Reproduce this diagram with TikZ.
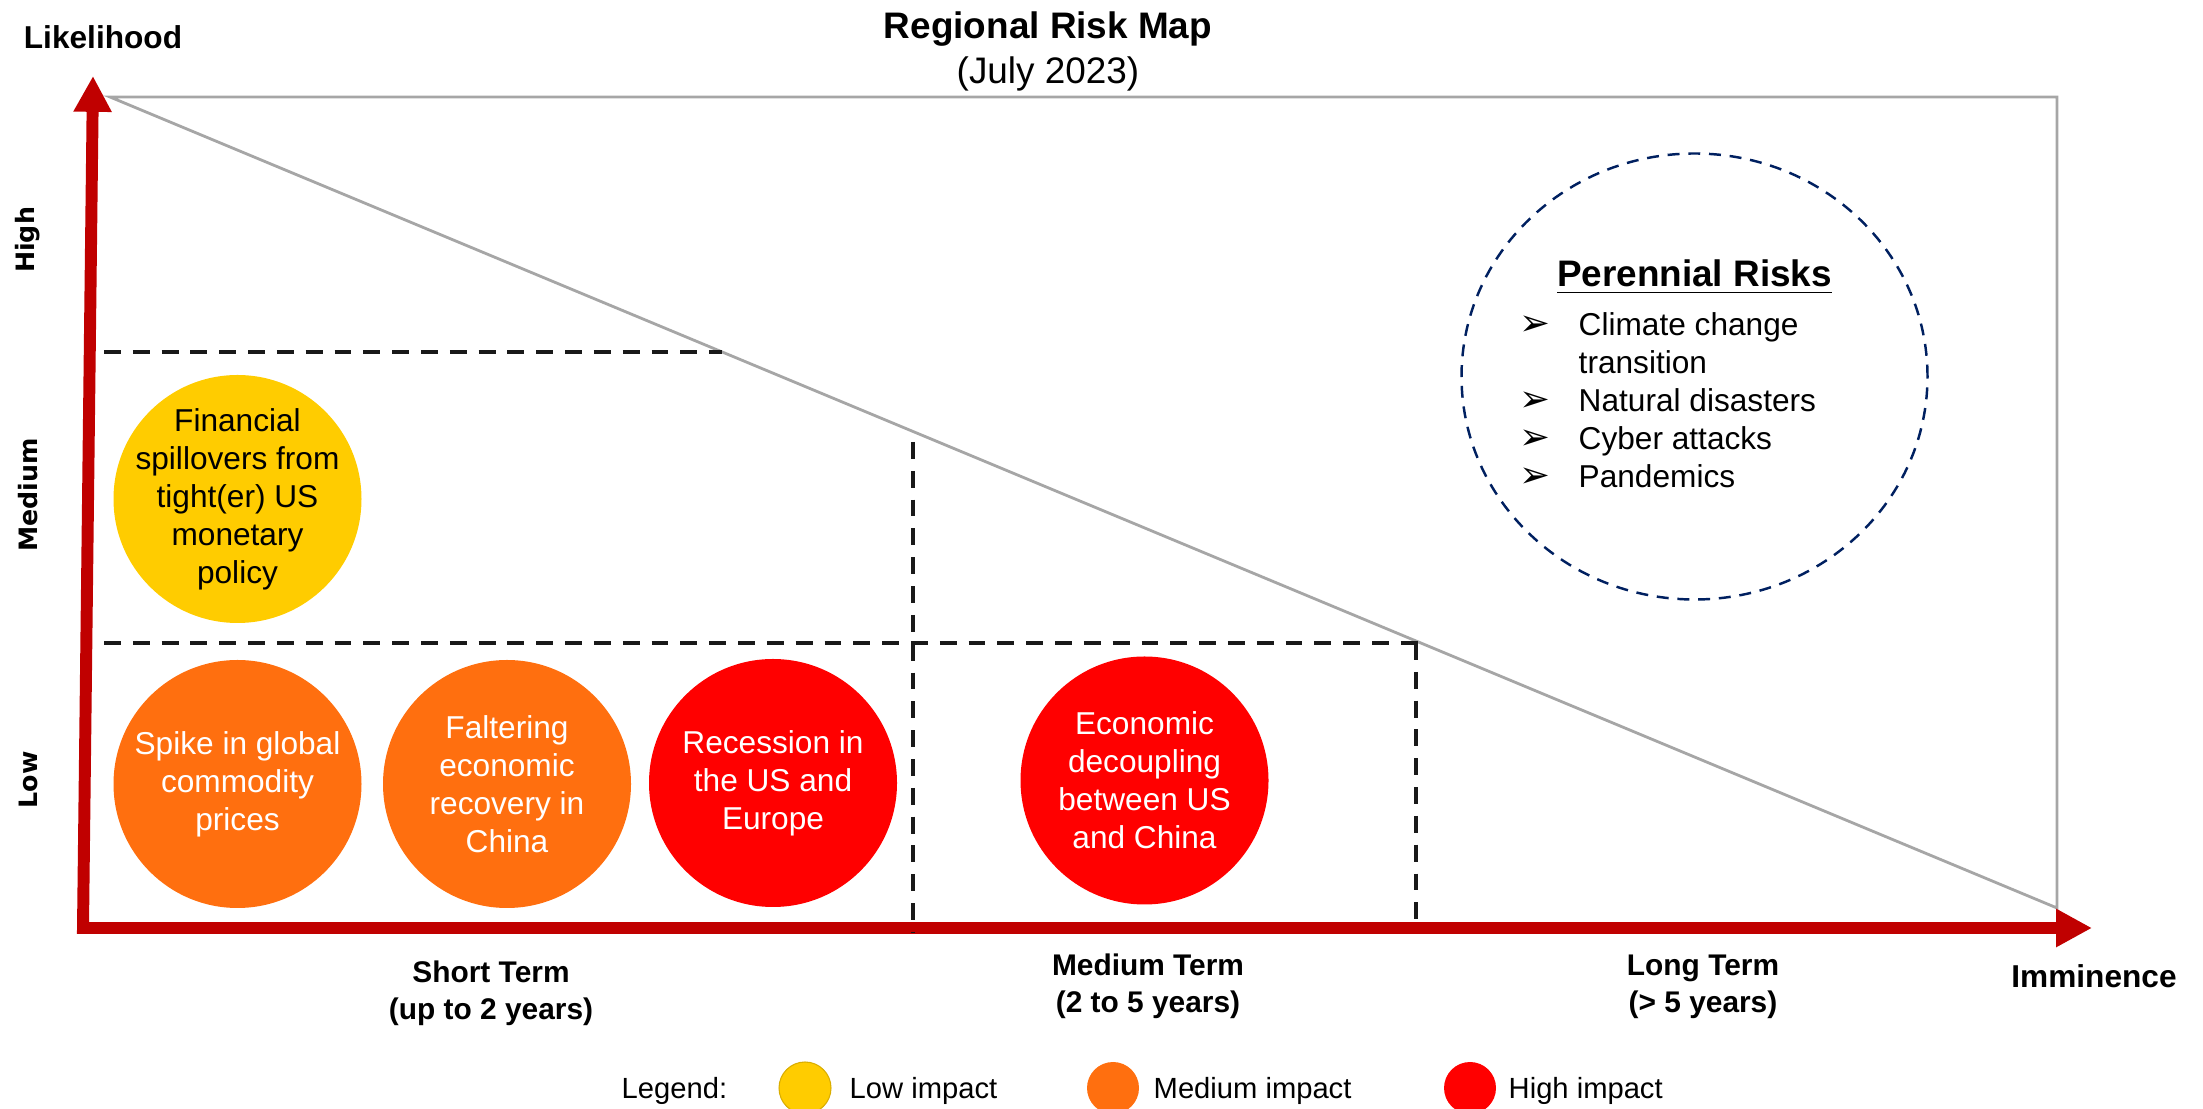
\documentclass[tikz,border=0pt]{standalone}
\usepackage{fontspec}
\setmainfont{Liberation Sans}
\newfontfamily\widefont{DejaVu Sans}
\usetikzlibrary{arrows.meta}
\definecolor{axisred}{HTML}{C00000}
\definecolor{lowimp}{HTML}{FFCC00}
\definecolor{medimp}{HTML}{FF6F0F}
\definecolor{highimp}{HTML}{FF0000}
\definecolor{framegray}{HTML}{A6A6A6}
\definecolor{navy}{HTML}{002060}
\newcommand{\bul}{{\widefont\fontsize{10.5}{10.8}\selectfont ➢}}

\begin{document}
\begin{tikzpicture}[
    risk/.style={circle, minimum size=2.48cm, inner sep=-8pt, align=center, font=\fontsize{9}{10.8}\selectfont},
    term/.style={align=center, font=\fontsize{8.5}{10.5}\selectfont\bfseries},
    likely/.style={rotate=90, font=\widefont\fontsize{7.2}{8}\selectfont\bfseries},
    divider/.style={dash pattern=on 4.8pt off 3.4pt, line width=1.1pt, black!90},
    legdot/.style={circle, minimum size=0.52cm, inner sep=0pt},
    legtext/.style={anchor=west, inner sep=0pt, font=\fontsize{8.3}{10}\selectfont}
]
    % Canvas
    \useasboundingbox (-0.83, -1.81) rectangle (21.20, 9.28);

    % Title
    \node[font=\fontsize{10.5}{12}\selectfont\bfseries] (title) at (9.65, 8.99) {Regional Risk Map};
    \node[font=\fontsize{10.5}{12}\selectfont] (date) at (9.65, 8.54) {(July 2023)};

    % Frame and diagonal
    \draw[framegray, line width=0.8pt] (0.27, 8.31) -- (19.74, 8.31) -- (19.74, 0.20) -- cycle;

    % Axes
    \draw[axisred, line width=3.4pt, {Triangle[length=10.2pt, width=10.2pt]}-{Triangle[length=10.2pt, width=10.2pt]}]
        (0.10, 8.52) -- (0, 0) -- (20.09, 0);
    \node[font=\fontsize{9}{11}\selectfont\bfseries] (ylab) at (0.20, 8.91) {Likelihood};
    \node[font=\fontsize{9}{11}\selectfont\bfseries] (xlab) at (20.11, -0.48) {Imminence};

    % Likelihood levels
    \node[likely] (high) at (-0.55, 6.88) {High};
    \node[likely] (medium) at (-0.55, 4.33) {Medium};
    \node[likely] (low) at (-0.55, 1.48) {Low};

    % Time horizons
    \node[term] (short) at (4.08, -0.65) {Short Term\\(up to 2 years)};
    \node[term] (mid) at (10.65, -0.58) {Medium Term\\(2 to 5 years)};
    \node[term] (long) at (16.20, -0.59) {Long Term\\(> 5 years)};

    % Dashed dividers
    \draw[divider] (0.21, 5.76) -- (6.39, 5.76);
    \draw[divider] (0.21, 2.85) -- (13.36, 2.85);
    \draw[divider] (8.30, 4.86) -- (8.30, -0.05);
    \draw[divider] (13.33, 2.85) -- (13.33, 0);

    % Risks
    \node[risk, fill=lowimp] (spill) at (1.545, 4.29) {Financial\\spillovers from\\tight(er) US\\monetary\\policy};
    \node[risk, fill=medimp, text=white] (spike) at (1.545, 1.44) {Spike in global\\commodity\\prices};
    \node[risk, fill=medimp, text=white] (china) at (4.24, 1.44) {Faltering\\economic\\recovery in\\China};
    \node[risk, fill=highimp, text=white] (recess) at (6.90, 1.45) {Recession in\\the US and\\Europe};
    \node[risk, fill=highimp, text=white] (decouple) at (10.615, 1.475) {Economic\\decoupling\\between US\\and China};

    % Perennial risks
    \draw[navy, line width=0.7pt, dash pattern=on 3.4pt off 2.5pt] (16.115, 5.515) ellipse [x radius=2.33, y radius=2.23];
    \node[anchor=base, font=\fontsize{10.5}{12}\selectfont\bfseries] (pertitle) at (16.115, 6.41) {\underline{Perennial Risks}};
    \node[anchor=west, inner sep=0pt, font=\fontsize{9}{10.8}\selectfont] (perlist) at (14.36, 5.24) {%
        \begin{tabular}{@{}p{0.59cm}@{}l@{}}
            \bul & Climate change\\
                 & transition\\
            \bul & Natural disasters\\
            \bul & Cyber attacks\\
            \bul & Pandemics
        \end{tabular}};

    % Legend
    \node[legtext] (legend) at (5.38, -1.63) {Legend:};
    \node[legdot, fill=lowimp, draw=lowimp!85!black, line width=0.3pt] (lowdot) at (7.22, -1.60) {};
    \node[legtext] (lowtxt) at (7.66, -1.63) {Low impact};
    \node[legdot, fill=medimp] (meddot) at (10.30, -1.60) {};
    \node[legtext] (medtxt) at (10.70, -1.63) {Medium impact};
    \node[legdot, fill=highimp] (highdot) at (13.87, -1.60) {};
    \node[legtext] (hightxt) at (14.25, -1.63) {High impact};
\end{tikzpicture}
\end{document}
